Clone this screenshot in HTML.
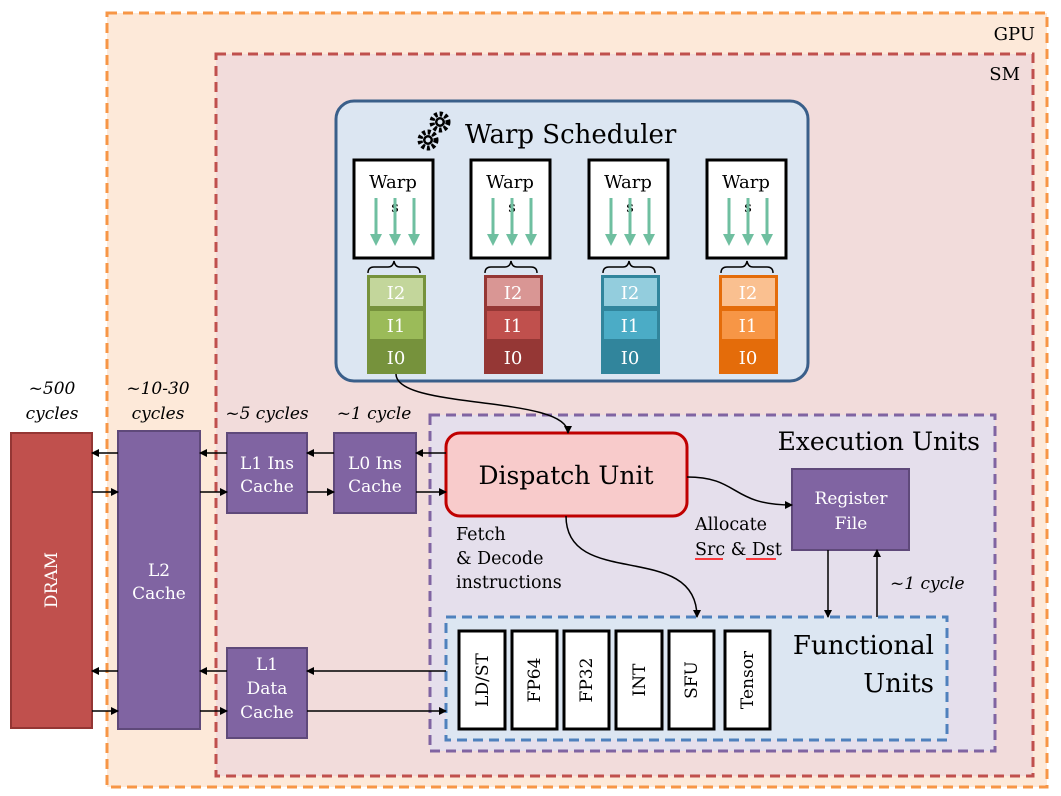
<!DOCTYPE html>
<html><head><meta charset="utf-8"><style>body{margin:0;background:#fff}svg{display:block}text{font-family:"DejaVu Serif","Liberation Serif",serif}</style></head><body>
<svg width="1061" height="796" viewBox="0 0 1061 796" xmlns="http://www.w3.org/2000/svg">
<defs><marker id="a" markerWidth="8" markerHeight="8" refX="7" refY="4" orient="auto" markerUnits="userSpaceOnUse"><path d="M0,0L8,4L0,8z" fill="#000"/></marker>
<marker id="g" markerWidth="12" markerHeight="12" refX="6" refY="6" orient="auto" markerUnits="userSpaceOnUse"><path d="M0,0L12,6L0,12z" fill="#6fbfa0"/></marker></defs>
<rect x="107" y="13" width="940" height="774" fill="#fde9d9" stroke="#f79646" stroke-width="3" stroke-dasharray="10,6"/>
<text x="1035" y="40" font-size="18" text-anchor="end">GPU</text>
<rect x="216" y="54" width="817" height="722" fill="#f2dcdb" stroke="#c0504d" stroke-width="3" stroke-dasharray="10,6"/>
<text x="1020" y="80" font-size="18" text-anchor="end">SM</text>
<rect x="336" y="101" width="472" height="280" rx="18" fill="#dce6f2" stroke="#3a5f8a" stroke-width="3"/>
<text x="465" y="143" font-size="26">Warp Scheduler</text>
<circle cx="440" cy="122" r="8" fill="none" stroke="#000" stroke-width="5" stroke-dasharray="3,2.3"/><circle cx="440" cy="122" r="5" fill="#000"/><circle cx="440" cy="122" r="2.5" fill="#dce6f2"/>
<circle cx="428" cy="140" r="8" fill="none" stroke="#000" stroke-width="5" stroke-dasharray="3,2.3"/><circle cx="428" cy="140" r="5" fill="#000"/><circle cx="428" cy="140" r="2.5" fill="#dce6f2"/>
<g id="w">
<rect x="354" y="160" width="79" height="98" fill="#fff" stroke="#000" stroke-width="3"/>
<text x="393" y="188" font-size="18" text-anchor="middle">Warp</text>
<text x="395" y="212" font-size="15" text-anchor="middle">s</text>
<g stroke="#6fbfa0" stroke-width="3" marker-end="url(#g)"><line x1="376" y1="198" x2="376" y2="240"/><line x1="395" y1="198" x2="395" y2="240"/><line x1="414" y1="198" x2="414" y2="240"/></g>
<path d="M368,273 q0,-6 6,-6 h14 q5,0 6,-6 q1,6 6,6 h14 q6,0 6,6" fill="none" stroke="#000" stroke-width="1.5"/>
</g>
<use href="#w" x="117"/><use href="#w" x="235"/><use href="#w" x="353"/>
<g font-size="18" fill="#fff" text-anchor="middle">
<rect x="367" y="275" width="59" height="99" fill="#76923c"/><rect x="370" y="278" width="53" height="28" fill="#c3d69b"/><rect x="370" y="311" width="53" height="28" fill="#9bbb59"/>
<text x="396" y="299">I2</text><text x="396" y="332">I1</text><text x="396" y="364">I0</text>
<rect x="484" y="275" width="59" height="99" fill="#953735"/><rect x="487" y="278" width="53" height="28" fill="#d99694"/><rect x="487" y="311" width="53" height="28" fill="#c0504d"/>
<text x="513" y="299">I2</text><text x="513" y="332">I1</text><text x="513" y="364">I0</text>
<rect x="601" y="275" width="59" height="99" fill="#31859c"/><rect x="604" y="278" width="53" height="28" fill="#93cddd"/><rect x="604" y="311" width="53" height="28" fill="#4bacc6"/>
<text x="630" y="299">I2</text><text x="630" y="332">I1</text><text x="630" y="364">I0</text>
<rect x="719" y="275" width="59" height="99" fill="#e46c0a"/><rect x="722" y="278" width="53" height="28" fill="#fac090"/><rect x="722" y="311" width="53" height="28" fill="#f79646"/>
<text x="748" y="299">I2</text><text x="748" y="332">I1</text><text x="748" y="364">I0</text>
</g>
<rect x="430" y="415" width="565" height="336" fill="#e5dfec" stroke="#8064a2" stroke-width="3" stroke-dasharray="10,6"/>
<text x="980" y="450" font-size="25" text-anchor="end">Execution Units</text>
<rect x="446" y="433" width="241" height="83" rx="14" fill="#f8cbcb" stroke="#c00000" stroke-width="3"/>
<text x="566" y="484" font-size="25" text-anchor="middle">Dispatch Unit</text>
<rect x="792" y="469" width="117" height="81" fill="#8064a2" stroke="#5f497a" stroke-width="2"/>
<text x="851" y="504" font-size="17" fill="#fff" text-anchor="middle">Register</text><text x="851" y="529" font-size="17" fill="#fff" text-anchor="middle">File</text>
<rect x="446" y="617" width="501" height="123" fill="#dce6f2" stroke="#4f81bd" stroke-width="3" stroke-dasharray="10,6"/>
<text x="934" y="654" font-size="26" text-anchor="end">Functional</text><text x="934" y="692" font-size="26" text-anchor="end">Units</text>
<g fill="#fff" stroke="#000" stroke-width="3"><rect x="459" y="631" width="46" height="98"/><rect x="512" y="631" width="45" height="98"/><rect x="564" y="631" width="45" height="98"/><rect x="616" y="631" width="46" height="98"/><rect x="669" y="631" width="45" height="98"/><rect x="725" y="631" width="45" height="98"/></g>
<g font-size="17" text-anchor="middle">
<text transform="translate(488,680) rotate(-90)">LD/ST</text><text transform="translate(540,680) rotate(-90)">FP64</text><text transform="translate(592,680) rotate(-90)">FP32</text><text transform="translate(645,680) rotate(-90)">INT</text><text transform="translate(697,680) rotate(-90)">SFU</text><text transform="translate(753,680) rotate(-90)">Tensor</text></g>
<text x="456" y="540" font-size="17.5">Fetch</text><text x="456" y="564" font-size="17.5">&amp; Decode</text><text x="456" y="588" font-size="17.5">instructions</text>
<text x="695" y="530" font-size="17.5">Allocate</text><text x="695" y="555" font-size="17.5">Src &amp; Dst</text>
<line x1="695" y1="559" x2="723" y2="559" stroke="red" stroke-width="1.5"/><line x1="746" y1="559" x2="776" y2="559" stroke="red" stroke-width="1.5"/>
<text x="890" y="589" font-size="17" font-style="italic">~1 cycle</text>
<rect x="11" y="433" width="81" height="295" fill="#c0504d" stroke="#943634" stroke-width="2"/>
<text transform="translate(57,580) rotate(-90)" font-size="17" fill="#fff" text-anchor="middle">DRAM</text>
<rect x="118" y="431" width="82" height="298" fill="#8064a2" stroke="#5f497a" stroke-width="2"/>
<text x="159" y="576" font-size="17" fill="#fff" text-anchor="middle">L2</text><text x="159" y="599" font-size="17" fill="#fff" text-anchor="middle">Cache</text>
<rect x="227" y="433" width="80" height="80" fill="#8064a2" stroke="#5f497a" stroke-width="2"/>
<text x="267" y="469" font-size="17" fill="#fff" text-anchor="middle">L1 Ins</text><text x="267" y="492" font-size="17" fill="#fff" text-anchor="middle">Cache</text>
<rect x="334" y="433" width="82" height="80" fill="#8064a2" stroke="#5f497a" stroke-width="2"/>
<text x="375" y="469" font-size="17" fill="#fff" text-anchor="middle">L0 Ins</text><text x="375" y="492" font-size="17" fill="#fff" text-anchor="middle">Cache</text>
<rect x="227" y="648" width="80" height="90" fill="#8064a2" stroke="#5f497a" stroke-width="2"/>
<text x="267" y="670" font-size="17" fill="#fff" text-anchor="middle">L1</text><text x="267" y="694" font-size="17" fill="#fff" text-anchor="middle">Data</text><text x="267" y="718" font-size="17" fill="#fff" text-anchor="middle">Cache</text>
<g font-size="17" font-style="italic" text-anchor="middle"><text x="52" y="394">~500</text><text x="52" y="419">cycles</text><text x="158" y="394">~10-30</text><text x="158" y="419">cycles</text><text x="267" y="419">~5 cycles</text><text x="374" y="419">~1 cycle</text></g>
<g stroke="#000" stroke-width="1.5" fill="none" marker-end="url(#a)">
<line x1="118" y1="453" x2="92" y2="453"/><line x1="92" y1="492" x2="118" y2="492"/>
<line x1="227" y1="453" x2="200" y2="453"/><line x1="200" y1="492" x2="227" y2="492"/>
<line x1="334" y1="453" x2="307" y2="453"/><line x1="307" y1="492" x2="334" y2="492"/>
<line x1="446" y1="453" x2="416" y2="453"/><line x1="416" y1="492" x2="446" y2="492"/>
<line x1="118" y1="671" x2="92" y2="671"/><line x1="92" y1="711" x2="118" y2="711"/>
<line x1="227" y1="671" x2="200" y2="671"/><line x1="200" y1="711" x2="227" y2="711"/>
<line x1="446" y1="671" x2="307" y2="671"/><line x1="307" y1="711" x2="446" y2="711"/>
<path d="M396,374 C396,410 568,395 568,433"/>
<path d="M687,477 C740,477 730,505 792,505"/>
<path d="M566,516 C566,590 697,540 697,617"/>
<line x1="828" y1="550" x2="828" y2="617"/><line x1="877" y1="617" x2="877" y2="550"/>
</g>
</svg>
</body></html>
